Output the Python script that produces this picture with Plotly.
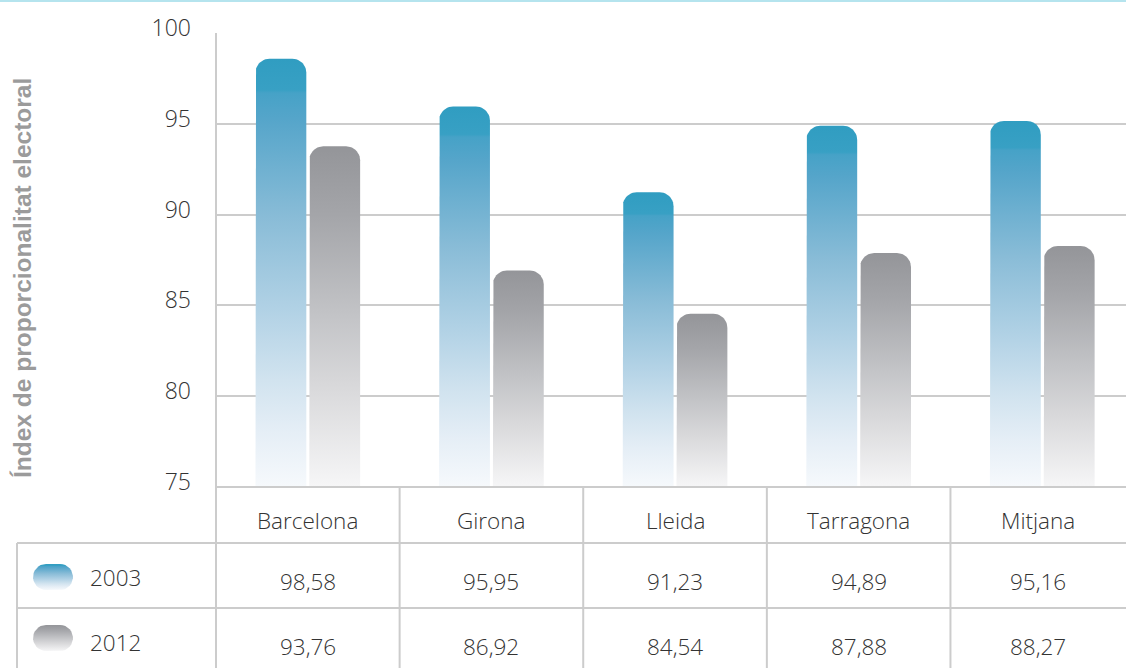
import numpy as np
import plotly.graph_objects as go

# ---------------- data ----------------
categories = ["Barcelona", "Girona", "Lleida", "Tarragona", "Mitjana"]
series_names = ["2003", "2012"]
values_2003 = [98.58, 95.95, 91.23, 94.89, 95.16]
values_2012 = [93.76, 86.92, 84.54, 87.88, 88.27]
y_ticks = [75, 80, 85, 90, 95, 100]
y_title = "Índex de proporcionalitat electoral"

# ---------------- layout constants ----------------
W, H = 1126, 668
PL, PT, PB = 216, 33, 487          # plot area left / top / bottom (px)
X_RANGE = [-0.5, 4.456]
Y_RANGE = [75, 100]
px_per_x = (W - PL) / (X_RANGE[1] - X_RANGE[0])
px_per_y = (PB - PT) / (Y_RANGE[1] - Y_RANGE[0])
GRID = "#cccccc"
TXT = "#333333"
FONT = "Open Sans"

blue_scale = [[0, "#f6f9fc"], [0.13, "#e5eef6"], [0.25, "#d1e3ef"], [0.4, "#b4d3e6"],
              [0.63, "#89bcd7"], [0.86, "#55a5ca"], [0.92, "#46a2c7"], [0.927, "#38a0c4"],
              [1, "#309dc1"]]
gray_scale = [[0, "#f6f6f7"], [0.3, "#d8d8da"], [0.5, "#c3c4c7"], [0.8, "#a4a5a9"],
              [1, "#949599"]]


def px2py(py):  # pixel from top -> paper y
    return (H - py) / H


def rounded_top(x0, x1, top, base, r_px=14, n=12):
    rx = r_px / px_per_x
    ry = r_px / px_per_y
    xs, ys = [x0], [base]
    xs.append(x0); ys.append(top - ry)
    for t in np.linspace(np.pi, np.pi / 2, n):
        xs.append(x0 + rx + rx * np.cos(t)); ys.append(top - ry + ry * np.sin(t))
    for t in np.linspace(np.pi / 2, 0, n):
        xs.append(x1 - rx + rx * np.cos(t)); ys.append(top - ry + ry * np.sin(t))
    xs.append(x1); ys.append(base)
    xs.append(x0); ys.append(base)
    return xs, ys


def pill(cx, cy, w, h, n=16):
    r = h / 2
    xs, ys = [], []
    for t in np.linspace(np.pi / 2, 3 * np.pi / 2, n):
        xs.append(cx - w / 2 + r + r * np.cos(t)); ys.append(cy + r * np.sin(t))
    for t in np.linspace(-np.pi / 2, np.pi / 2, n):
        xs.append(cx + w / 2 - r + r * np.cos(t)); ys.append(cy + r * np.sin(t))
    xs.append(xs[0]); ys.append(ys[0])
    return xs, ys


fig = go.Figure()

series = [(values_2003, -0.285, -0.008, blue_scale),
          (values_2012, 0.008, 0.285, gray_scale)]
for vals, o0, o1, scale in series:
    for i, v in enumerate(vals):
        xs, ys = rounded_top(i + o0, i + o1, v, Y_RANGE[0])
        fig.add_trace(go.Scatter(
            x=xs, y=ys, mode="lines", fill="toself", line=dict(width=0),
            fillgradient=dict(type="vertical", colorscale=scale),
            hoverinfo="skip", showlegend=False, xaxis="x", yaxis="y"))

# legend swatches on pixel overlay axes (y up)
for (cy_top, scale) in [(577, blue_scale), (638, gray_scale)]:
    xs, ys = pill(53, H - cy_top, 40, 26)
    fig.add_trace(go.Scatter(
        x=xs, y=ys, mode="lines", fill="toself", line=dict(width=0),
        fillgradient=dict(type="vertical", colorscale=scale),
        hoverinfo="skip", showlegend=False, xaxis="x2", yaxis="y2"))

# ---------------- shapes (table lines) ----------------
shapes = []
def hline(x0, x1, py, color=GRID, w=2):
    shapes.append(dict(type="line", xref="paper", yref="paper", x0=x0 / W, x1=x1 / W,
                       y0=px2py(py), y1=px2py(py), line=dict(color=color, width=w)))
def vline_px(px, py0, py1):
    shapes.append(dict(type="line", xref="paper", yref="paper", x0=px / W, x1=px / W,
                       y0=px2py(py0), y1=px2py(py1), line=dict(color=GRID, width=2)))

hline(0, W, 1, color="#b5e4ee", w=2)
hline(PL, W, PB)
hline(17, W, 543)
hline(17, W, 608)
vline_px(17, 543, H)
vline_px(PL, PT, H)
for k in range(1, len(categories)):
    shapes.append(dict(type="line", xref="x", yref="paper", x0=k - 0.5, x1=k - 0.5,
                       y0=px2py(PB), y1=0, line=dict(color=GRID, width=2)))

# ---------------- annotations ----------------
ann = []
def fmt(v):
    return f"{v:.2f}".replace(".", ",")

tfont = dict(size=22.5, color=TXT, family=FONT, weight=300)
for i, c in enumerate(categories):
    xc = (i - 0.5 + min(i + 0.5, X_RANGE[1])) / 2   # centre of the visible cell
    ann.append(dict(x=xc, xref="x", y=px2py(520), yref="paper", text=c, showarrow=False,
                    font=tfont, xanchor="center", yanchor="middle"))
    ann.append(dict(x=xc, xref="x", y=px2py(581), yref="paper", text=fmt(values_2003[i]),
                    showarrow=False, font=tfont, xanchor="center", yanchor="middle"))
    ann.append(dict(x=xc, xref="x", y=px2py(646), yref="paper", text=fmt(values_2012[i]),
                    showarrow=False, font=tfont, xanchor="center", yanchor="middle"))

for name, py in zip(series_names, [577, 642]):
    ann.append(dict(x=143 / W, xref="paper", y=px2py(py), yref="paper", text=name,
                    showarrow=False, font=tfont, xanchor="right", yanchor="middle"))

ann.append(dict(x=22 / W, xref="paper", y=px2py(278), yref="paper", text=y_title,
                textangle=-90, showarrow=False,
                font=dict(size=24.5, color="#9b9b9b", family="Liberation Sans", weight="bold"),
                xanchor="center", yanchor="middle"))

fig.update_layout(
    width=W, height=H, margin=dict(l=0, r=0, t=0, b=0, pad=0, autoexpand=False),
    paper_bgcolor="white", plot_bgcolor="rgba(0,0,0,0)",
    showlegend=False,
    xaxis=dict(domain=[PL / W, 1], range=X_RANGE, showgrid=False, zeroline=False,
               showticklabels=False, fixedrange=True, automargin=False),
    yaxis=dict(domain=[px2py(PB), px2py(PT)], range=Y_RANGE, tickvals=y_ticks,
               ticktext=[str(t) for t in y_ticks], showgrid=True, gridcolor=GRID, gridwidth=2,
               zeroline=False, showline=False, ticks="", automargin=False,
               tickfont=dict(size=23, color=TXT, family=FONT, weight=300),
               ticklabelstandoff=24, ticklabelshift=-5),
    xaxis2=dict(domain=[0, 1], range=[0, W], visible=False, anchor="y2", fixedrange=True,
                automargin=False),
    yaxis2=dict(domain=[0, 1], range=[0, H], visible=False, anchor="x2", fixedrange=True,
                automargin=False),
    shapes=shapes, annotations=ann,
)

fig.write_html("out.html", config={"displayModeBar": False},
               post_script="document.body.style.margin='0';document.body.style.overflow='hidden';")
